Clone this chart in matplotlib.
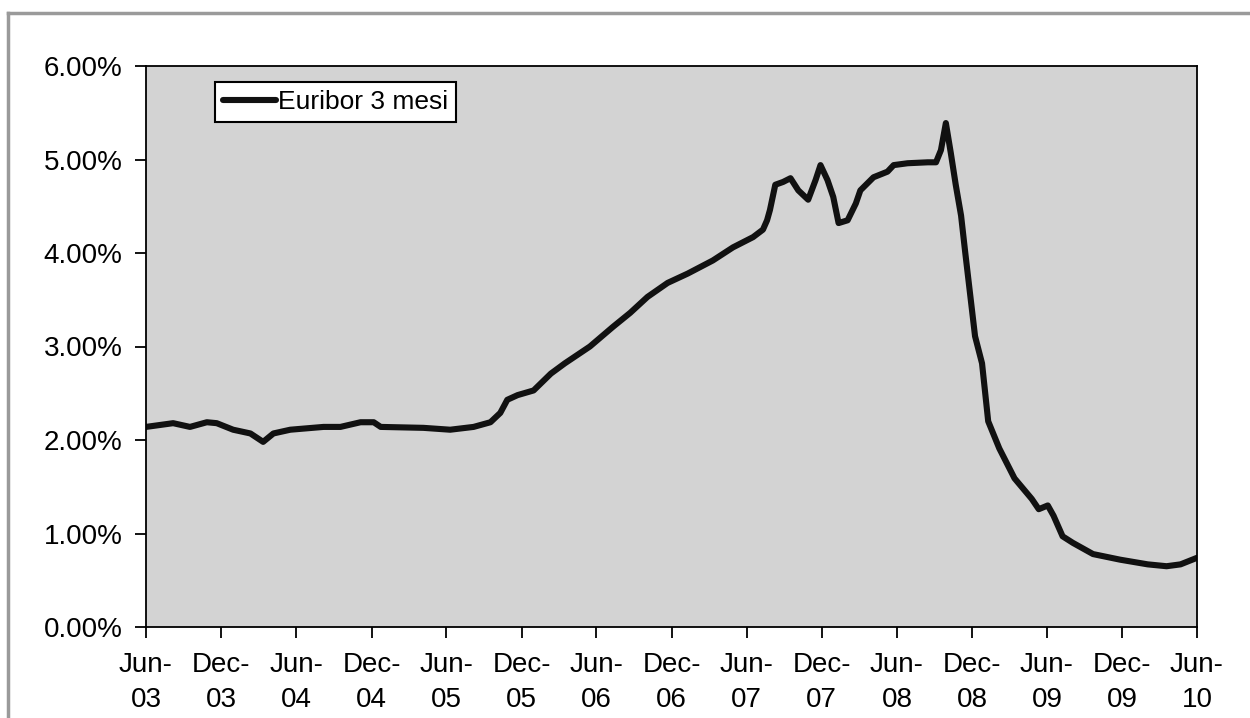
import matplotlib
matplotlib.use("Agg")
import matplotlib.pyplot as plt
from matplotlib.ticker import FuncFormatter
from matplotlib.lines import Line2D
import pandas as pd

plt.rcParams['font.family'] = ['Liberation Sans', 'DejaVu Sans']

dates = ["2003-06-01", "2003-08-06", "2003-09-16", "2003-10-27", "2003-11-20",
         "2003-12-30", "2004-02-10", "2004-03-12", "2004-04-06", "2004-05-17",
         "2004-08-06", "2004-09-16", "2004-11-04", "2004-12-06", "2004-12-23",
         "2005-04-06", "2005-06-10", "2005-08-06", "2005-09-16", "2005-10-10",
         "2005-10-27", "2005-11-21", "2005-12-30", "2006-02-10", "2006-03-16",
         "2006-05-16", "2006-07-11", "2006-08-22", "2006-10-03", "2006-11-21",
         "2007-01-09", "2007-03-11", "2007-04-29", "2007-06-17", "2007-07-11",
         "2007-07-21", "2007-07-28", "2007-08-10", "2007-08-29", "2007-09-16",
         "2007-10-05", "2007-10-29", "2007-11-16", "2007-11-28", "2007-12-15",
         "2007-12-29", "2008-01-11", "2008-02-02", "2008-02-22", "2008-03-04",
         "2008-04-05", "2008-05-09", "2008-05-24", "2008-06-27", "2008-08-15",
         "2008-09-04", "2008-09-16", "2008-09-28", "2008-10-10", "2008-10-22",
         "2008-11-04", "2008-11-14", "2008-12-08", "2008-12-25",
         "2009-01-09", "2009-02-05", "2009-03-14", "2009-04-25", "2009-05-12",
         "2009-06-03", "2009-06-17", "2009-07-09", "2009-08-03", "2009-09-21",
         "2009-11-26", "2010-02-01", "2010-03-19", "2010-04-22", "2010-06-01"]

euribor_3m = [2.14, 2.18, 2.14, 2.19, 2.18,
              2.11, 2.07, 1.98, 2.07, 2.11,
              2.14, 2.14, 2.19, 2.19, 2.14,
              2.13, 2.11, 2.14, 2.19, 2.29,
              2.43, 2.48, 2.53, 2.71, 2.82,
              3.00, 3.21, 3.36, 3.53, 3.68,
              3.78, 3.92, 4.06, 4.17, 4.25,
              4.35, 4.46, 4.73, 4.76, 4.80,
              4.67, 4.57, 4.78, 4.94, 4.78,
              4.60, 4.32, 4.35, 4.53, 4.67,
              4.81, 4.87, 4.94, 4.96, 4.97,
              4.97, 5.10, 5.39, 5.07, 4.73,
              4.40, 4.01, 3.11, 2.82,
              2.20, 1.91, 1.59, 1.37, 1.26,
              1.30, 1.19, 0.97, 0.90, 0.78,
              0.72, 0.67, 0.65, 0.67, 0.74]

series_label = "Euribor 3 mesi"
y_ticks = [0, 1, 2, 3, 4, 5, 6]
x_ticks = pd.date_range("2003-06-01", "2010-06-01", freq="6MS")

x = pd.to_datetime(dates)

fig = plt.figure(figsize=(12.5, 7.18), dpi=100)
fig.patch.set_facecolor("white")
ax = fig.add_axes([146/1250, 1 - 627/718, (1197-146)/1250, (627-66)/718])
ax.set_facecolor("#d3d3d3")

ax.plot(x, euribor_3m, color="#111111", lw=4.4, solid_capstyle="round",
        solid_joinstyle="round", label=series_label)

ax.set_ylim(0, 6)
ax.set_yticks(y_ticks)
ax.yaxis.set_major_formatter(FuncFormatter(lambda v, p: f"{v:.2f}%"))
ax.set_xlim(x_ticks[0], x_ticks[-1])
ax.set_xticks(x_ticks)
ax.set_xticklabels([d.strftime("%b-\n%y") for d in x_ticks])

for s in ax.spines.values():
    s.set_color("black")
    s.set_linewidth(1.3)

ax.tick_params(axis="both", direction="out", length=8, width=1.3, colors="black",
               labelsize=20)
ax.tick_params(axis="y", pad=9)
ax.tick_params(axis="x", pad=10)
for lab in ax.get_xticklabels():
    lab.set_linespacing(1.45)

leg = ax.legend(loc="upper left", bbox_to_anchor=((215-146)/1051, (627-82)/561),
                frameon=True, fancybox=False, framealpha=1, edgecolor="black",
                fontsize=19, handlelength=2.0, handletextpad=0.1,
                borderpad=0.3, borderaxespad=0)
leg.get_frame().set_linewidth(1.5)

# outer frame (top and left edges visible)
fig.add_artist(Line2D([8/1250, 1.0], [1 - 13/718, 1 - 13/718], transform=fig.transFigure,
                      color="#9a9a9a", lw=2.5))
fig.add_artist(Line2D([8/1250, 8/1250], [0.0, 1 - 13/718], transform=fig.transFigure,
                      color="#9a9a9a", lw=2.5))

fig.savefig("out.png", dpi=100)
